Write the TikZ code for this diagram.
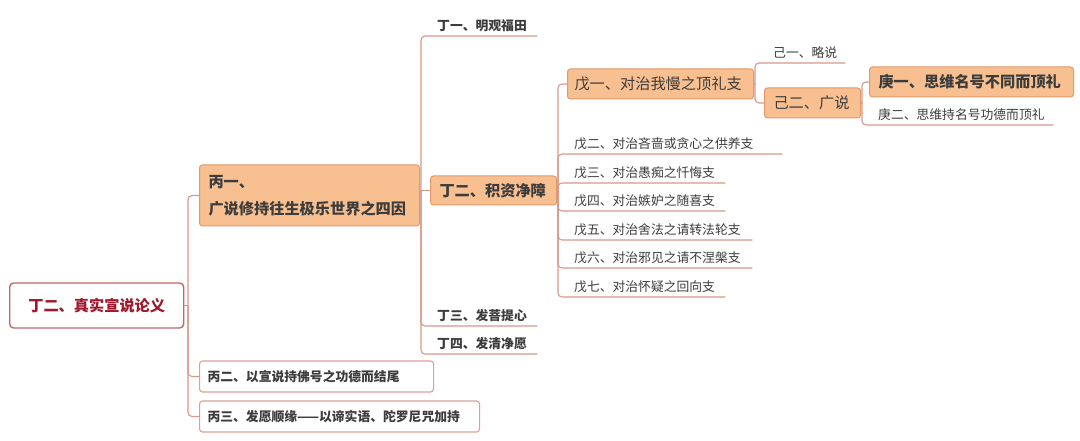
\documentclass[tikz,border=0pt]{standalone}
\usepackage{fontspec}
\newfontfamily\cjk{Noto Sans CJK SC}
\definecolor{linec}{RGB}{216,152,140}
\definecolor{ofill}{RGB}{248,192,145}
\definecolor{oborder}{RGB}{226,152,105}
\definecolor{pborder}{RGB}{220,160,152}
\definecolor{rborder}{RGB}{192,104,104}
\definecolor{rtext}{RGB}{160,24,44}
\definecolor{gtext}{RGB}{60,60,60}
\newcommand\fsL{\fontsize{15.2}{18}\selectfont}
\newcommand\fsS{\fontsize{12.8}{15}\selectfont}
\begin{document}
\begin{tikzpicture}[x=1pt,y=-1pt,
  conn/.style={draw=linec,line width=1.1pt,rounded corners=4pt},
  base/.style={inner ysep=0pt,align=left,text=gtext},
  obox/.style={base,draw=oborder,fill=ofill,line width=1pt,rounded corners=3pt,anchor=west},
  wbox/.style={base,draw=pborder,fill=white,line width=1.1pt,rounded corners=3pt,anchor=west},
  rootbox/.style={draw=rborder,fill=white,line width=1.4pt,rounded corners=4pt,anchor=west,text=rtext,inner sep=0pt},
  leaf/.style={base,anchor=south west,inner xsep=0pt,inner ysep=4pt},
]
\path[fill=white] (0,0) rectangle (1080,441);
\coordinate (t0) at (188,0);
\coordinate (t1) at (421,0);
\coordinate (t2) at (558,0);
\coordinate (t3) at (755,0);
\coordinate (t4) at (862,0);

% root
\node[rootbox,minimum width=174pt,minimum height=45pt] (root) at (9,305.5) {\cjk\bfseries\fsL 丁二、真实宣说论义};

% level 丙
\node[obox,inner xsep=9pt,text width=202pt,minimum height=61pt,font=\cjk\bfseries\fsL] (b1) at (199,195.5)
  {丙一、\\[9pt]广说修持往生极乐世界之四因};
\node[wbox,inner xsep=8pt,text width=218pt,minimum height=31pt] (b2) at (199,376.5) {\cjk\bfseries\fsS 丙二、以宣说持佛号之功德而结尾};
\node[wbox,inner xsep=8pt,text width=264pt,minimum height=31pt] (b3) at (199,416.5) {\cjk\bfseries\fsS 丙三、发愿顺缘——以谛实语、陀罗尼咒加持};

% level 丁
\node[leaf,text width=100pt] (d1) at (437,36) {\cjk\bfseries\fsS 丁一、明观福田};
\node[obox,inner xsep=9pt,text width=108pt,minimum height=29pt] (d2) at (430,190.5) {\cjk\bfseries\fsL 丁二、积资净障};
\node[leaf,text width=100pt] (d3) at (437,326) {\cjk\bfseries\fsS 丁三、发菩提心};
\node[leaf,text width=100pt] (d4) at (437,354) {\cjk\bfseries\fsS 丁四、发清净愿};

% level 戊
\node[obox,inner xsep=7pt,text width=172pt,minimum height=30pt] (e1) at (567,84) {\cjk\fsL 戊一、对治我慢之顶礼支};
\node[leaf,text width=208pt] (e2) at (574,154) {\cjk\fsS 戊二、对治吝啬或贪心之供养支};
\node[leaf,text width=151pt] (e3) at (574,183) {\cjk\fsS 戊三、对治愚痴之忏悔支};
\node[leaf,text width=151pt] (e4) at (574,211) {\cjk\fsS 戊四、对治嫉妒之随喜支};
\node[leaf,text width=178pt] (e5) at (574,240) {\cjk\fsS 戊五、对治舍法之请转法轮支};
\node[leaf,text width=178pt] (e6) at (574,268) {\cjk\fsS 戊六、对治邪见之请不涅槃支};
\node[leaf,text width=151pt] (e7) at (574,297) {\cjk\fsS 戊七、对治怀疑之回向支};

% level 己
\node[leaf,text width=72pt] (f1) at (773,63) {\cjk\fsS 己一、略说};
\node[obox,inner xsep=9pt,text width=78pt,minimum height=30pt] (f2) at (764,103) {\cjk\fsL 己二、广说};

% level 庚
\node[obox,inner xsep=9pt,text width=186pt,minimum height=30pt] (g1) at (869,82) {\cjk\bfseries\fsL 庚一、思维名号不同而顶礼};
\node[leaf,text width=175pt] (g2) at (878,125) {\cjk\fsS 庚二、思维持名号功德而顶礼};

% connectors
\draw[conn] (root.east) -- (root.east -| t0);
\draw[conn] (root.east -| t0) |- (b1.west);
\draw[conn] (root.east -| t0) |- (b2.west);
\draw[conn] (root.east -| t0) |- (b3.west);

\draw[conn] (b1.east |- d2.west) -- (d2.west);
\draw[conn] (d2.west -| t1) |- (d1.south west) -- (d1.south east);
\draw[conn] (d2.west -| t1) |- (d3.south west) -- (d3.south east);
\draw[conn] (d2.west -| t1) |- (d4.south west) -- (d4.south east);

\draw[conn] (d2.east) -- (d2.east -| t2);
\draw[conn] (d2.east -| t2) |- (e1.west);
\draw[conn] (d2.east -| t2) |- (e2.south west) -- (e2.south east);
\draw[conn] (d2.east -| t2) |- (e3.south west) -- (e3.south east);
\draw[conn] (d2.east -| t2) |- (e4.south west) -- (e4.south east);
\draw[conn] (d2.east -| t2) |- (e5.south west) -- (e5.south east);
\draw[conn] (d2.east -| t2) |- (e6.south west) -- (e6.south east);
\draw[conn] (d2.east -| t2) |- (e7.south west) -- (e7.south east);

\draw[conn] (e1.east) -- (e1.east -| t3);
\draw[conn] (e1.east -| t3) |- (f1.south west) -- (f1.south east);
\draw[conn] (e1.east -| t3) |- (f2.west);

\draw[conn] (f2.east) -- (f2.east -| t4);
\draw[conn] (f2.east -| t4) |- (g1.west);
\draw[conn] (f2.east -| t4) |- (g2.south west) -- (g2.south east);
\end{tikzpicture}
\end{document}
